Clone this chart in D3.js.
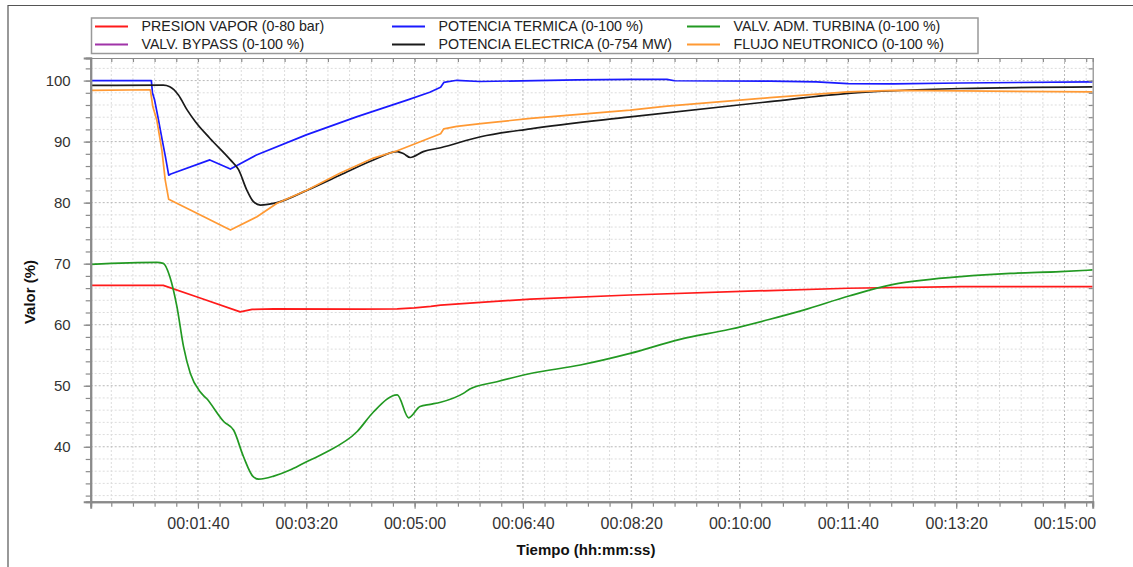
<!DOCTYPE html>
<html>
<head>
<meta charset="utf-8">
<script src="https://cdn.jsdelivr.net/npm/d3@7"></script>
<style>
  html, body { margin: 0; padding: 0; background: #fff; }
  svg { display: block; font-family: "Liberation Sans", Arial, sans-serif; }
</style>
</head>
<body>
<svg id="chart" width="1133" height="567"></svg>
<script>
// ---- DATA (time in seconds, value in %) ----
const seriesNames = [
  "PRESION VAPOR (0-80 bar)", "VALV. BYPASS (0-100 %)",
  "POTENCIA TERMICA (0-100 %)", "POTENCIA ELECTRICA (0-754 MW)",
  "VALV. ADM. TURBINA (0-100 %)", "FLUJO NEUTRONICO (0-100 %)"
];
const seriesColors = ["#ff1a1a", "#a033a8", "#1a1aff", "#1a1a1a", "#229922", "#ff9933"];

const presionVapor = [[1,66.45],[68,66.45],[100,64.5],[139,62.1],[150,62.5],[170,62.6],[250,62.55],[284,62.6],[300,62.75],[315,63.0],[324,63.2],[407,64.2],[499,64.87],[628,65.6],[700,65.97],[804,66.23],[926,66.25]];
const valvBypass = [[1,0],[926,0]];
const potenciaTermica = [[1,100],[57,100],[58,98],[60,96.8],[63,94.1],[67,90.3],[70,87.5],[73,84.5],[75,84.7],[111,87.0],[130,85.5],[154,87.8],[200,91.1],[247,94.1],[293,96.8],[314,98.1],[324,98.9],[327,99.7],[339,100.05],[360,99.85],[450,100.1],[499,100.2],[533,100.2],[540,99.97],[628,99.9],[671,99.8],[700,99.5],[742,99.45],[804,99.6],[926,99.8]];
const potenciaElectrica = [[1,99.2],[68,99.25],[74,99.0],[82,97.65],[90,95.2],[97.5,93.3],[111,90.55],[130,87.0],[137.5,85.4],[145,82.1],[151,80.2],[157.5,79.6],[173,80.0],[200,81.97],[231,84.5],[262,87.0],[284,88.36],[290,88.0],[296,87.4],[308,88.36],[324,89.0],[361,90.8],[407,92.1],[499,94.05],[628,96.55],[700,97.9],[804,98.7],[926,98.97]];
const valvAdmTurbina = [[1,69.9],[62,70.2],[68,70.05],[74,67.9],[80.6,62.95],[86.7,56.4],[93,52.0],[102,49.0],[108,47.9],[124,44.1],[133,42.7],[142,38.4],[151,35.1],[156,34.7],[170,35.2],[185,36.2],[197.5,37.3],[216,38.9],[247,42.5],[262,45.7],[284,48.5],[294.5,44.75],[305,46.6],[314.5,46.95],[324,47.3],[345,48.75],[351,49.45],[376,50.66],[407,52.0],[453,53.4],[499,55.3],[545,57.6],[591,59.25],[628,60.9],[659,62.4],[701,64.7],[742,66.6],[770,67.3],[804,67.87],[850,68.4],[896,68.7],[926,68.97]];
const flujoNeutronico = [[1,98.4],[56,98.5],[58.4,95.7],[62,93.55],[66.7,88.6],[69.8,83.7],[73,80.55],[93,78.8],[130,75.5],[154.5,77.7],[173,79.9],[200,82.0],[231,84.8],[262,87.3],[284,88.5],[314,90.6],[324,91.3],[327,92.1],[339,92.5],[361,92.95],[407,93.8],[499,95.15],[533,95.8],[628,97.2],[700,98.15],[742,98.4],[804,98.3],[926,98.15]];

const xMajorTicks = [100, 200, 300, 400, 500, 600, 700, 800, 900];
const yMajorTicks = [40, 50, 60, 70, 80, 90, 100];
const xTitle = "Tiempo (hh:mm:ss)";
const yTitle = "Valor (%)";

// ---- LAYOUT ----
const svg = d3.select("#chart");
const L = 90.7, R = 1092.7, T = 58, B = 501.7;
const x = d3.scaleLinear().domain([1, 926]).range([L, R]);
const y = d3.scaleLinear().domain([31, 103.7]).range([B, T]);

const xMinor = d3.range(20, 926, 20);
const yMinor = d3.range(32, 103.7, 2);

function hms(s) {
  const h = Math.floor(s / 3600), m = Math.floor((s % 3600) / 60), sec = s % 60;
  const p = v => String(v).padStart(2, "0");
  return p(h) + ":" + p(m) + ":" + p(sec);
}

// outer frame
svg.append("path").attr("d", "M8,567 V5.5 H1133").attr("fill", "none").attr("stroke", "#555").attr("stroke-width", 1.2);

// grid
const grid = svg.append("g");
grid.selectAll(".gx").data(xMinor).join("line")
  .attr("x1", d => x(d)).attr("x2", d => x(d)).attr("y1", T).attr("y2", B)
  .attr("stroke", d => d % 100 === 0 ? "#b8b8b8" : "#dcdcdc")
  .attr("stroke-width", 1).attr("stroke-dasharray", "2,2");
grid.selectAll(".gy").data(yMinor).join("line")
  .attr("x1", L).attr("x2", R).attr("y1", d => y(d)).attr("y2", d => y(d))
  .attr("stroke", d => d % 10 === 0 ? "#b8b8b8" : "#dcdcdc")
  .attr("stroke-width", 1).attr("stroke-dasharray", "2,2");

// series
svg.append("clipPath").attr("id", "clip").append("rect")
  .attr("x", L).attr("y", T).attr("width", R - L).attr("height", B - T);
const lineLin = d3.line().x(d => x(d[0])).y(d => y(d[1])).curve(d3.curveLinear);
const lineSmooth = d3.line().x(d => x(d[0])).y(d => y(d[1])).curve(d3.curveMonotoneX);
const allSeries = [presionVapor, valvBypass, potenciaTermica, potenciaElectrica, valvAdmTurbina, flujoNeutronico];
const smoothFlags = [false, false, false, true, true, false];
const gLines = svg.append("g").attr("clip-path", "url(#clip)");
allSeries.forEach((s, i) => {
  gLines.append("path").datum(s).attr("d", smoothFlags[i] ? lineSmooth : lineLin)
    .attr("fill", "none").attr("stroke", seriesColors[i]).attr("stroke-width", 1.7)
    .attr("stroke-linejoin", "round");
});

// axes
const axisColor = "#8a8a8a";
const gxAxis = svg.append("g").attr("transform", `translate(0,${B})`)
  .call(d3.axisBottom(x).tickValues(xMinor).tickSize(5).tickFormat(""));
const gxMaj = svg.append("g").attr("transform", `translate(0,${B})`)
  .call(d3.axisBottom(x).tickValues(xMajorTicks).tickSize(7).tickPadding(8.5).tickFormat(hms));
const gyAxis = svg.append("g").attr("transform", `translate(${L},0)`)
  .call(d3.axisLeft(y).tickValues(yMinor).tickSize(5).tickFormat(""));
const gyMaj = svg.append("g").attr("transform", `translate(${L},0)`)
  .call(d3.axisLeft(y).tickValues(yMajorTicks).tickSize(7).tickPadding(13).tickFormat(d3.format("d")));
// top / right mirror
const gTop = svg.append("g").attr("transform", `translate(0,${T})`)
  .call(d3.axisBottom(x).tickValues(xMinor).tickSize(4).tickFormat(""));
const gRight = svg.append("g").attr("transform", `translate(${R},0)`)
  .call(d3.axisLeft(y).tickValues(yMinor).tickSize(4).tickFormat(""));

[gxAxis, gxMaj, gyAxis, gyMaj, gTop, gRight].forEach(g => {
  g.selectAll(".domain").attr("stroke", axisColor).attr("stroke-width", 2);
  g.selectAll(".tick line").attr("stroke", axisColor).attr("stroke-width", 1.2);
  g.selectAll("text").attr("fill", "#333").attr("font-size", 15)
    .attr("font-family", "'Liberation Sans', Arial, sans-serif");
});
gxMaj.selectAll("text").attr("font-size", 16);
[gTop, gRight].forEach(g => g.selectAll(".domain").attr("stroke-width", 1.2));

// titles
svg.append("text").attr("x", 586).attr("y", 555).attr("text-anchor", "middle")
  .attr("font-weight", "bold").attr("font-size", 15).attr("fill", "#111").text(xTitle);
svg.append("text").attr("transform", "translate(35,292) rotate(-90)").attr("text-anchor", "middle")
  .attr("font-weight", "bold").attr("font-size", 15).attr("fill", "#111").text(yTitle);

// legend
const lg = svg.append("g");
lg.append("rect").attr("x", 91.5).attr("y", 18).attr("width", 886.5).attr("height", 35.5)
  .attr("fill", "#fff").attr("stroke", "#999").attr("stroke-width", 1.5);
const colX = [95, 392, 687];
const rowY = [26.5, 44.5];
seriesNames.forEach((name, i) => {
  const cx = colX[Math.floor(i / 2)], cy = rowY[i % 2];
  lg.append("line").attr("x1", cx).attr("x2", cx + 33).attr("y1", cy).attr("y2", cy)
    .attr("stroke", seriesColors[i]).attr("stroke-width", 2);
  lg.append("text").attr("x", cx + 46.5).attr("y", cy).attr("dy", "0.35em")
    .attr("font-size", 14.2).attr("fill", "#222").text(name);
});
</script>
</body>
</html>
